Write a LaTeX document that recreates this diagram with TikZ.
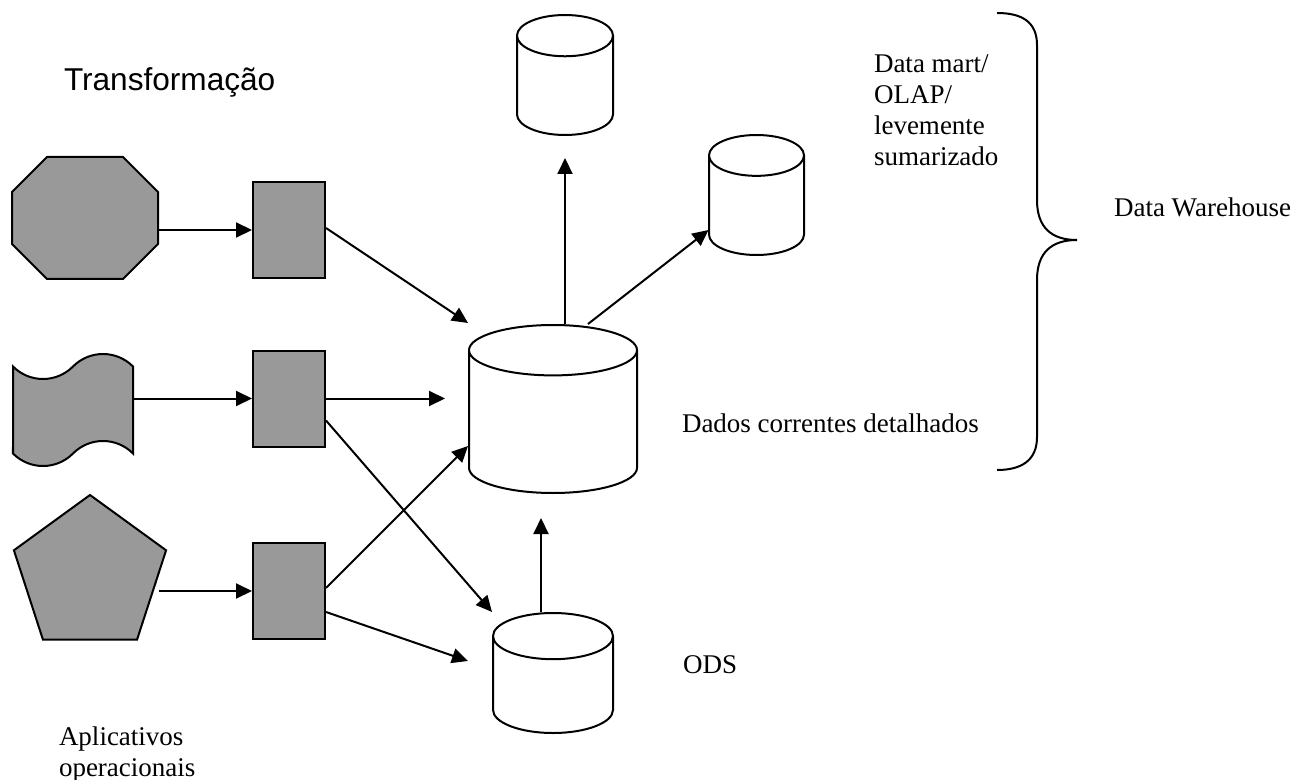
\documentclass[tikz,border=0pt]{standalone}
\usepackage{fontspec}
\setmainfont{Liberation Serif}
\newfontfamily\arialfont{Liberation Sans}
\usetikzlibrary{shapes.geometric,shapes.symbols,arrows.meta}

\begin{document}
\begin{tikzpicture}[x=0.5pt,y=-0.5pt,
line width=1pt,
src/.style = {% fontes operacionais
    draw=black, fill=black!40,
             },
trf/.style = {% caixas de transformacao
    draw=black, fill=black!40, inner sep=0pt,
    minimum width=36pt, minimum height=48pt,
             },
db/.style  = {% bancos de dados
    cylinder, shape border rotate=90, draw=black, fill=white,
    inner xsep=#1, inner ysep=0pt, anchor=shape center,
             },
lbl/.style = {inner sep=0pt, font=\fontsize{13.5}{15.5}\selectfont},
seta/.style = {-{Triangle[length=8pt,width=7.5pt]}},
                    ]
 \useasboundingbox (0,0) rectangle (1294,780);

 % fontes
 \node[inner sep=0pt, minimum width=72pt, minimum height=60pt] (oct) at (85,218) {};
 \draw[fill=black!40] ([xshift=17.5pt]oct.north west) -- ([xshift=-17.5pt]oct.north east)
    -- ([yshift=-17.5pt]oct.north east) -- ([yshift=17.5pt]oct.south east)
    -- ([xshift=-17.5pt]oct.south east) -- ([xshift=17.5pt]oct.south west)
    -- ([yshift=17.5pt]oct.south west) -- ([yshift=-17.5pt]oct.north west) -- cycle;
 \node[src, tape, minimum width=60pt, minimum height=56pt,
       tape bend height=12.5pt] (tape) at (73,410) {};
 \node[src, regular polygon, regular polygon sides=5,
       minimum size=80pt] (pent) at (90,575) {};

 % transformacao
 \node[trf] (r1) at (289,230) {};
 \node[trf] (r2) at (289,398.5) {};
 \node[trf] (r3) at (289,591) {};

 % bancos
 \node[db=42pt, aspect=0.30, minimum height=84pt] (main) at (553,409) {};
 \node[db=30pt, aspect=0.385, minimum height=60pt] (ods) at (553,673) {};
 \node[db=24pt, aspect=0.43, minimum height=60pt] (top) at (565,75) {};
 \node[db=23.75pt, aspect=0.43, minimum height=60pt] (right) at (756.5,195) {};

 % setas
 \draw[seta] (oct.east |- r1.west) -- (r1.west);
 \draw[seta] (tape.east |- r2.west) -- (r2.west);
 \draw[seta] (pent.east |- r3.west) -- (r3.west);

 \draw[seta] ([yshift=1pt]r1.east) -- ([shift={(-42.5pt,43pt)}]main.shape center);
 \draw[seta, shorten >=12pt] (r2.east) -- ([xshift=-42pt]main.shape center |- r2.east);
 \draw[seta] ([yshift=-11pt]r2.east) -- ([shift={(-30.5pt,30.5pt)}]ods.shape center);
 \draw[seta] ([yshift=1.5pt]r3.east) -- ([shift={(-42.5pt,-18.5pt)}]main.shape center);
 \draw[seta] ([yshift=-10.5pt]r3.east) -- ([shift={(-42.5pt,6pt)}]ods.shape center);

 \draw[seta, shorten >=11pt] (top.south |- main.north) -- (top.south);
 \draw[seta] ([xshift=17.5pt]main.north) -- ([shift={(-24pt,-17.5pt)}]right.shape center);
 \draw[seta, shorten >=12pt] ([xshift=-6pt]ods.north)
      -- ([xshift=-6pt]ods.north |- main.south);

 % chave
 \draw (997,13) .. controls (1022,13) and (1037,22) .. (1037,45)
    -- (1037,200) .. controls (1037,228) and (1052,240) .. (1077,240)
       .. controls (1052,240) and (1037,252) .. (1037,280)
    -- (1037,437) .. controls (1037,460) and (1022,470) .. (997,470);

 % textos
 \node[lbl, anchor=base west] (trans) at (63,91)
      {\arialfont\fontsize{15.8}{18}\selectfont Transformação};
 \node[lbl, anchor=north west, align=left] (mart) at (873,54)
      {Data mart/\\OLAP/\\levemente\\sumarizado};
 \node[lbl, anchor=base west] (dados) at (681,432) {Dados correntes detalhados};
 \node[lbl, anchor=base west] (odsl) at (682,673) {ODS};
 \node[lbl, anchor=base west] (dw) at (1113,217) {Data Warehouse};
 \node[lbl, anchor=north west, align=left] (apl) at (58,726)
      {Aplicativos\\operacionais};

\end{tikzpicture}
\end{document}
